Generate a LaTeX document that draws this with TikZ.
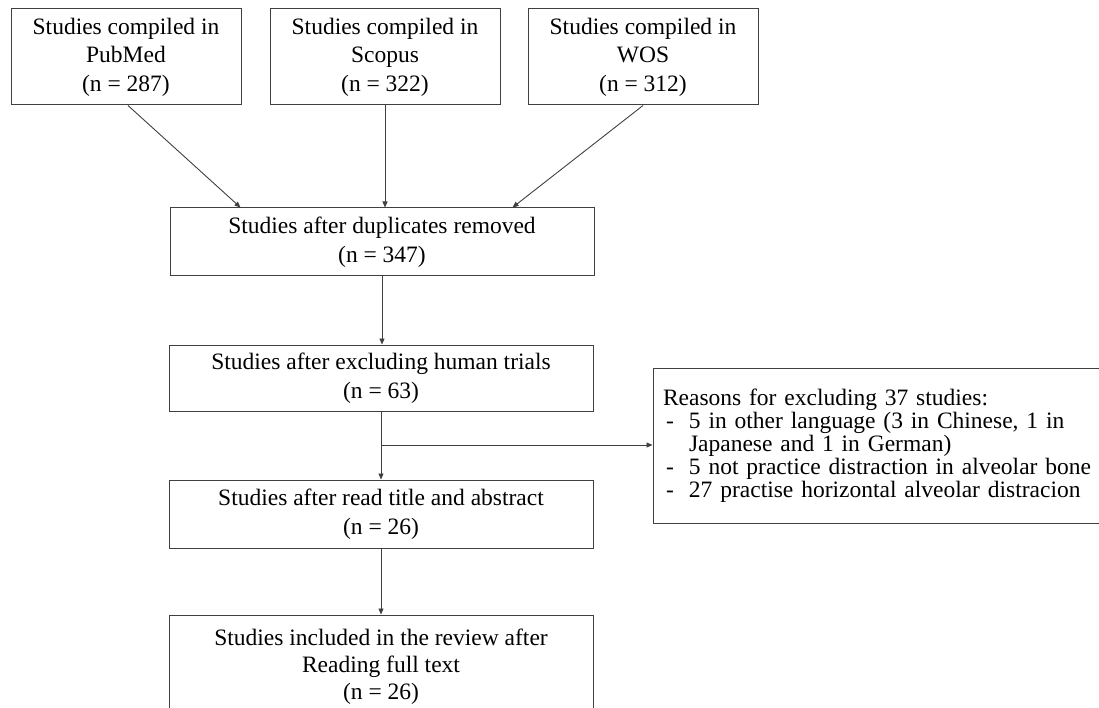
\documentclass[tikz,border=0pt]{standalone}
\usepackage{fontspec}
\setmainfont{Liberation Serif}
\usetikzlibrary{arrows.meta,calc}
\begin{document}
\begin{tikzpicture}[x=1pt,y=-1pt,
  box/.style={draw=black!75,line width=1pt,inner sep=0pt,align=center,
    font=\fontsize{23.5pt}{28.5pt}\selectfont},
  arr/.style={draw=black!75,line width=0.9pt,-{Triangle[length=6pt,width=5pt]}}]
\useasboundingbox (0,0) rectangle (1099,708);
\node[box,minimum width=230pt,minimum height=96pt] (pub) at (126,57)
  {Studies compiled in\\PubMed\\(n = 287)};
\node[box,minimum width=230pt,minimum height=96pt] (sco) at (385,57)
  {Studies compiled in\\Scopus\\(n = 322)};
\node[box,minimum width=230pt,minimum height=96pt] (wos) at (643,57)
  {Studies compiled in\\WOS\\(n = 312)};
\node[box,minimum width=424pt,minimum height=68pt] (dup) at (382,242)
  {Studies after duplicates removed\\(n = 347)};
\node[box,minimum width=424pt,minimum height=66pt] (hum) at (381,378)
  {Studies after excluding human trials\\(n = 63)};
\node[box,minimum width=424pt,minimum height=68pt] (read) at (381,514)
  {Studies after read title and abstract\\(n = 26)};
\node[box,minimum width=424pt,minimum height=104pt,
  font=\fontsize{23.5pt}{27pt}\selectfont] (inc) at (381,667)
  {Studies included in the review after\\Reading full text\\(n = 26)};
\node[box,align=left,text width=437pt,inner xsep=10pt,minimum height=155pt,
  font=\fontsize{23.5pt}{23pt}\selectfont] (rea) at (881.5,445.5)
  {Reasons for excluding 37 studies:\\
   \hspace*{3pt}\makebox[23pt][l]{-}5 in other language (3 in Chinese, 1 in\\
   \hspace*{26pt}Japanese and 1 in German)\\
   \hspace*{3pt}\makebox[23pt][l]{-}5 not practice distraction in alveolar bone\\
   \hspace*{3pt}\makebox[23pt][l]{-}27 practise horizontal alveolar distracion};
\coordinate (br) at (381,445);
\draw[arr] ([xshift=2pt]pub.south) -- ([xshift=71pt]dup.north west);
\draw[arr] (sco.south) -- (sco.south |- dup.north);
\draw[arr] (wos.south) -- ([xshift=-82pt]dup.north east);
\draw[arr] (dup.south) -- (dup.south |- hum.north);
\draw[arr] (hum.south) -- (read.north);
\draw[arr] (br) -- (br -| rea.west);
\draw[arr] (read.south) -- (inc.north);
\end{tikzpicture}
\end{document}
